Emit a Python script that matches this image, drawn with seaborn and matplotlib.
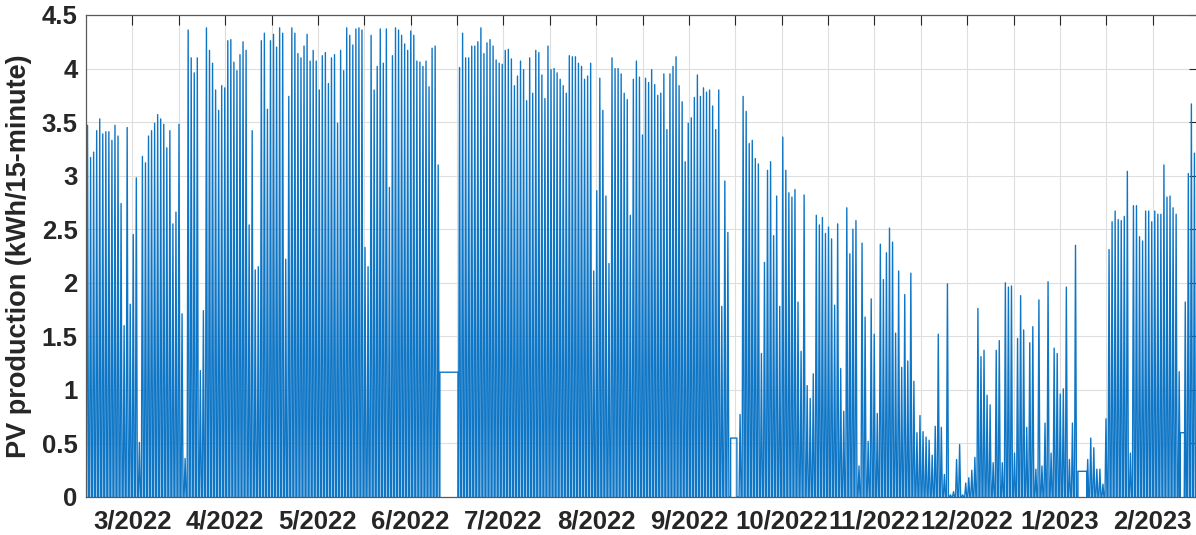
import numpy as np
import pandas as pd
import matplotlib
matplotlib.use("Agg")
import matplotlib.pyplot as plt
import seaborn as sns

sns.set_style("white")
plt.rcParams['font.family'] = ['Liberation Sans', 'DejaVu Sans']

nan = np.nan

# Daily peak PV production (kWh/15-minute), one value per day, NaN = missing day
mar_2022 = [3.47, 3.17, 3.22, 3.42, 3.53, 3.39, 3.41, 3.41, 3.33, 3.47,
            3.37, 2.74, 1.60, 3.45, 1.80, 2.45, 2.98, 0.51, 3.18, 3.12,
            3.37, 3.42, 3.49, 3.57, 3.53, 3.48, 3.26, 3.42, 2.55, 2.66, 3.48]
apr_2022 = [1.71, 0.36, 4.36, 4.10, 3.96, 4.10, 1.18, 1.74, 4.38, 4.17,
            4.05, 3.80, 3.61, 3.84, 3.82, 4.26, 4.27, 4.06, 3.98, 4.13,
            4.25, 4.17, 2.54, 3.42, 2.12, 2.15, 4.26, 4.33, 3.62, 4.26]
may_2022 = [4.32, 4.20, 4.38, 4.33, 2.22, 3.74, 4.38, 4.33, 4.14, 4.10,
            4.21, 4.32, 4.07, 4.17, 4.07, 3.80, 4.12, 4.15, 3.86, 4.10,
            4.13, 3.49, 4.17, 3.98, 4.38, 4.31, 4.22, 4.37, 4.38, 4.36, 2.33]
jun_2022 = [2.15, 4.31, 3.80, 4.02, 4.37, 4.05, 4.37, 2.89, 4.12, 4.38,
            4.36, 4.31, 4.23, 4.17, 4.35, 4.31, 4.07, 4.06, 4.02, 4.07,
            3.83, 4.19, 4.21, 3.10, nan, nan, nan, nan, nan, nan]
jul_2022 = [4.01, 4.33, 4.10, 4.10, 4.21, 4.21, 4.25, 4.38, 4.14, 4.24,
            4.27, 4.21, 4.08, 4.05, 4.04, 4.17, 4.18, 4.09, 3.84, 3.93,
            4.07, 3.99, 3.70, 4.10, 3.77, 4.17, 4.15, 3.94, 3.72, 4.21, 3.99]
aug_2022 = [4.00, 3.96, 3.90, 3.84, 3.77, 4.12, 4.11, 4.11, 4.05, 4.02,
            3.90, 3.93, 4.05, 2.11, 2.86, 3.91, 3.61, 2.81, 2.18, 4.10,
            4.00, 4.00, 3.95, 3.77, 3.71, 2.63, 3.90, 4.07, 3.92, 3.38, 3.91]
sep_2022 = [3.87, 3.99, 3.85, 3.75, 3.77, 3.95, 3.43, 3.95, 4.02, 4.11,
            3.84, 3.69, 3.13, 3.49, 3.54, 3.73, 3.94, 3.74, 3.82, 3.78,
            3.80, 3.65, 3.43, 3.80, 1.78, 2.95, 2.47, nan, nan, nan]
oct_2022 = [0.77, 3.74, 3.60, 3.30, 3.33, 3.16, 3.11, 1.34, 2.19, 3.05,
            3.13, 2.44, 2.81, 1.78, 3.36, 3.05, 2.84, 2.80, 2.87, 1.82,
            1.36, 2.82, 1.04, 0.92, 1.15, 2.63, 2.54, 2.61, 2.46, 2.52, 2.41]
nov_2022 = [1.79, 2.55, 1.20, 0.80, 2.70, 2.27, 2.50, 2.58, 0.29, 2.37,
            1.68, 0.52, 1.85, 1.52, 0.78, 2.36, 2.03, 2.28, 2.51, 2.38,
            1.53, 2.11, 1.21, 1.89, 1.27, 2.09, 1.08, 0.60, 0.76, 0.61]
dec_2022 = [0.56, 0.53, 0.39, 0.66, 1.52, 0.65, 0.21, 1.99, 0.02, 0.05,
            0.35, 0.49, 0.02, 0.13, 0.18, 0.25, 0.37, 1.76, 1.31, 1.37,
            0.95, 0.86, 0.32, 1.37, 1.46, 0.32, 2.00, 1.96, 1.97, 0.41, 1.48]
jan_2023 = [1.88, 1.56, 0.65, 1.44, 1.59, 0.26, 1.84, 0.29, 0.69, 2.01,
            0.41, 1.39, 1.34, 0.96, 1.01, 1.96, 0.35, 0.69, 2.35, nan,
            nan, nan, 0.35, 0.55, 0.46, 0.26, 0.26, 0.12, 0.73, 2.31, 2.57]
feb_2023 = [2.67, 2.59, 2.58, 2.62, 3.04, 0.41, 2.72, 2.72, 2.43, 2.39,
            2.67, 2.67, 2.57, 2.67, 2.64, 2.64, 3.10, 2.80, 2.81, 2.70,
            2.64, 1.17, nan, 1.82, 3.02, 3.67, 3.21]

# Missing-data stretches drawn as a flat level (start day, end day, level)
gap_start = [116.05, 211.40, 325.30, 358.75]
gap_end = [122.00, 213.45, 328.30, 360.30]
gap_level = [1.165, 0.55, 0.24, 0.60]

month_labels = ['3/2022', '4/2022', '5/2022', '6/2022', '7/2022', '8/2022',
                '9/2022', '10/2022', '11/2022', '12/2022', '1/2023', '2/2023']
y_ticks = [0, 0.5, 1, 1.5, 2, 2.5, 3, 3.5, 4, 4.5]
y_tick_labels = ['0', '0.5', '1', '1.5', '2', '2.5', '3', '3.5', '4', '4.5']

peaks = np.array(mar_2022 + apr_2022 + may_2022 + jun_2022 + jul_2022 + aug_2022 +
                 sep_2022 + oct_2022 + nov_2022 + dec_2022 + jan_2023 + feb_2023, dtype=float)

# each day's production is drawn as a daylight spike rising from zero at night
pieces = []
for d, v in enumerate(peaks):
    if np.isnan(v):
        continue
    pieces.append((d + 0.17, [d + 0.17, d + 0.5, d + 0.83], [0.0, v, 0.0]))
for s, e, lv in zip(gap_start, gap_end, gap_level):
    pieces.append((s, [s, s, e, e], [0.0, lv, lv, 0.0]))
pieces.sort(key=lambda p: p[0])
xs, ys = [0.0], [0.0]
for _, px, py in pieces:
    xs += px
    ys += py
df = pd.DataFrame({'day': xs, 'kwh': ys})

fig = plt.figure(figsize=(11.96, 5.35), dpi=100)
ax = fig.add_axes([86 / 1196, 38 / 535, 1113 / 1196, 482 / 535])

sns.lineplot(data=df, x='day', y='kwh', sort=False, estimator=None,
             color='#0f76c6', linewidth=1.0, ax=ax)

n_days = 365
month_len = n_days / 12
ax.set_xlim(0, n_days)
ax.set_ylim(0, 4.5)
ax.set_xticks([(k + 0.5) * month_len for k in range(12)])
ax.set_xticklabels(month_labels)
ax.set_xticks([k * month_len for k in range(1, 12)], minor=True)
ax.set_yticks(y_ticks)
ax.set_yticklabels(y_tick_labels)

ax.grid(True, which='major', color='#dedede', linewidth=0.8)
ax.grid(True, which='minor', axis='x', color='#dedede', linewidth=0.8)
ax.set_axisbelow(True)

tick_col = '#262626'
ax.tick_params(axis='both', which='both', direction='in', length=7, width=0.8,
               color=tick_col, top=True, right=True, labelcolor=tick_col)
ax.tick_params(axis='x', which='major', labelsize=18.5, pad=9)
ax.tick_params(axis='y', which='major', labelsize=18.5, pad=6)
for lab in ax.get_xticklabels() + ax.get_yticklabels():
    lab.set_fontweight('bold')

ax.set_xlabel('')
ax.set_ylabel('PV production (kWh/15-minute)', fontsize=19.5, fontweight='bold',
              color=tick_col, labelpad=7)

for sp in ax.spines.values():
    sp.set_color('#5a5a5a')
    sp.set_linewidth(0.9)

fig.savefig('out.png', dpi=100)
